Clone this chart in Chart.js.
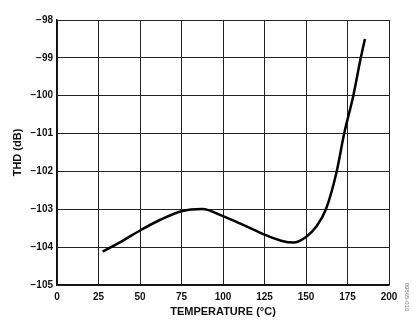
<!DOCTYPE html>
<html>
<head>
<meta charset="utf-8">
<script src="https://cdn.jsdelivr.net/npm/chart.js@4/dist/chart.umd.min.js"></script>
<style>
  html, body { margin: 0; padding: 0; background: #fff; }
  #wrap { width: 419px; height: 327px; position: relative; }
</style>
</head>
<body>
<div id="wrap"><canvas id="chart" width="419" height="327"></canvas></div>
<script>
// THD vs temperature
var temps = [27.5, 40, 50, 62.5, 75, 87.5, 100, 112.5, 125, 135, 142.5, 150, 156, 162, 168.5, 173, 178.5, 183, 185.5];
var thd = [-104.12, -103.82, -103.56, -103.27, -103.05, -102.99, -103.18, -103.42, -103.67, -103.83, -103.88, -103.73, -103.47, -103.0, -102.0, -101.0, -100.0, -99.0, -98.5];

var xMin = 0, xMax = 200, xStep = 25;
var yMin = -105, yMax = -98, yStep = 1;

var fig = '09865-010';

var tickFont = { family: 'Liberation Sans, Arial, sans-serif', size: 10, weight: 'bold' };
var titleFont = { family: 'Liberation Sans, Arial, sans-serif', size: 11, weight: 'bold' };

var points = temps.map(function (t, i) { return { x: t, y: thd[i] }; });

// small rotated figure id at the bottom right
var figLabel = {
    id: 'figLabel',
    afterDraw: function (chart) {
        var ctx = chart.ctx;
        ctx.save();
        ctx.translate(407, 297);
        ctx.rotate(Math.PI / 2);
        ctx.font = '6px Liberation Sans, Arial, sans-serif';
        ctx.fillStyle = '#777';
        ctx.textAlign = 'center';
        ctx.textBaseline = 'middle';
        ctx.fillText(fig, 0, 0);
        ctx.restore();
    }
};

var ctx = document.getElementById('chart');
new Chart(ctx, {
    type: 'line',
    data: {
        datasets: [{
            data: points,
            borderColor: '#000',
            borderWidth: 2.5,
            pointRadius: 0,
            fill: false,
            cubicInterpolationMode: 'monotone'
        }]
    },
    options: {
        responsive: false,
        animation: false,
        devicePixelRatio: 1,
        layout: { padding: { top: 20, right: 30, left: 0, bottom: 0 } },
        plugins: { legend: { display: false }, tooltip: { enabled: false } },
        scales: {
            x: {
                type: 'linear',
                min: xMin, max: xMax,
                ticks: { stepSize: xStep, color: '#111', font: tickFont, padding: 6, maxRotation: 0 },
                grid: { color: '#222', lineWidth: 1, drawTicks: false },
                border: { color: '#111', width: 1.5 },
                title: { display: true, text: 'TEMPERATURE (°C)', color: '#111', font: titleFont, padding: { top: 0, bottom: 8 } },
                afterFit: function (s) { s.height = 42; }
            },
            y: {
                min: yMin, max: yMax,
                ticks: {
                    stepSize: yStep, color: '#111', font: tickFont, padding: 4,
                    callback: function (v) { return String(v).replace('-', '\u2212'); }
                },
                grid: { color: '#222', lineWidth: 1, drawTicks: false },
                border: { color: '#111', width: 1.5 },
                title: { display: true, text: 'THD (dB)', color: '#111', font: titleFont, padding: { top: 11, bottom: 0 } },
                afterFit: function (s) { s.width = 57; }
            }
        }
    },
    plugins: [figLabel]
});
</script>
</body>
</html>
